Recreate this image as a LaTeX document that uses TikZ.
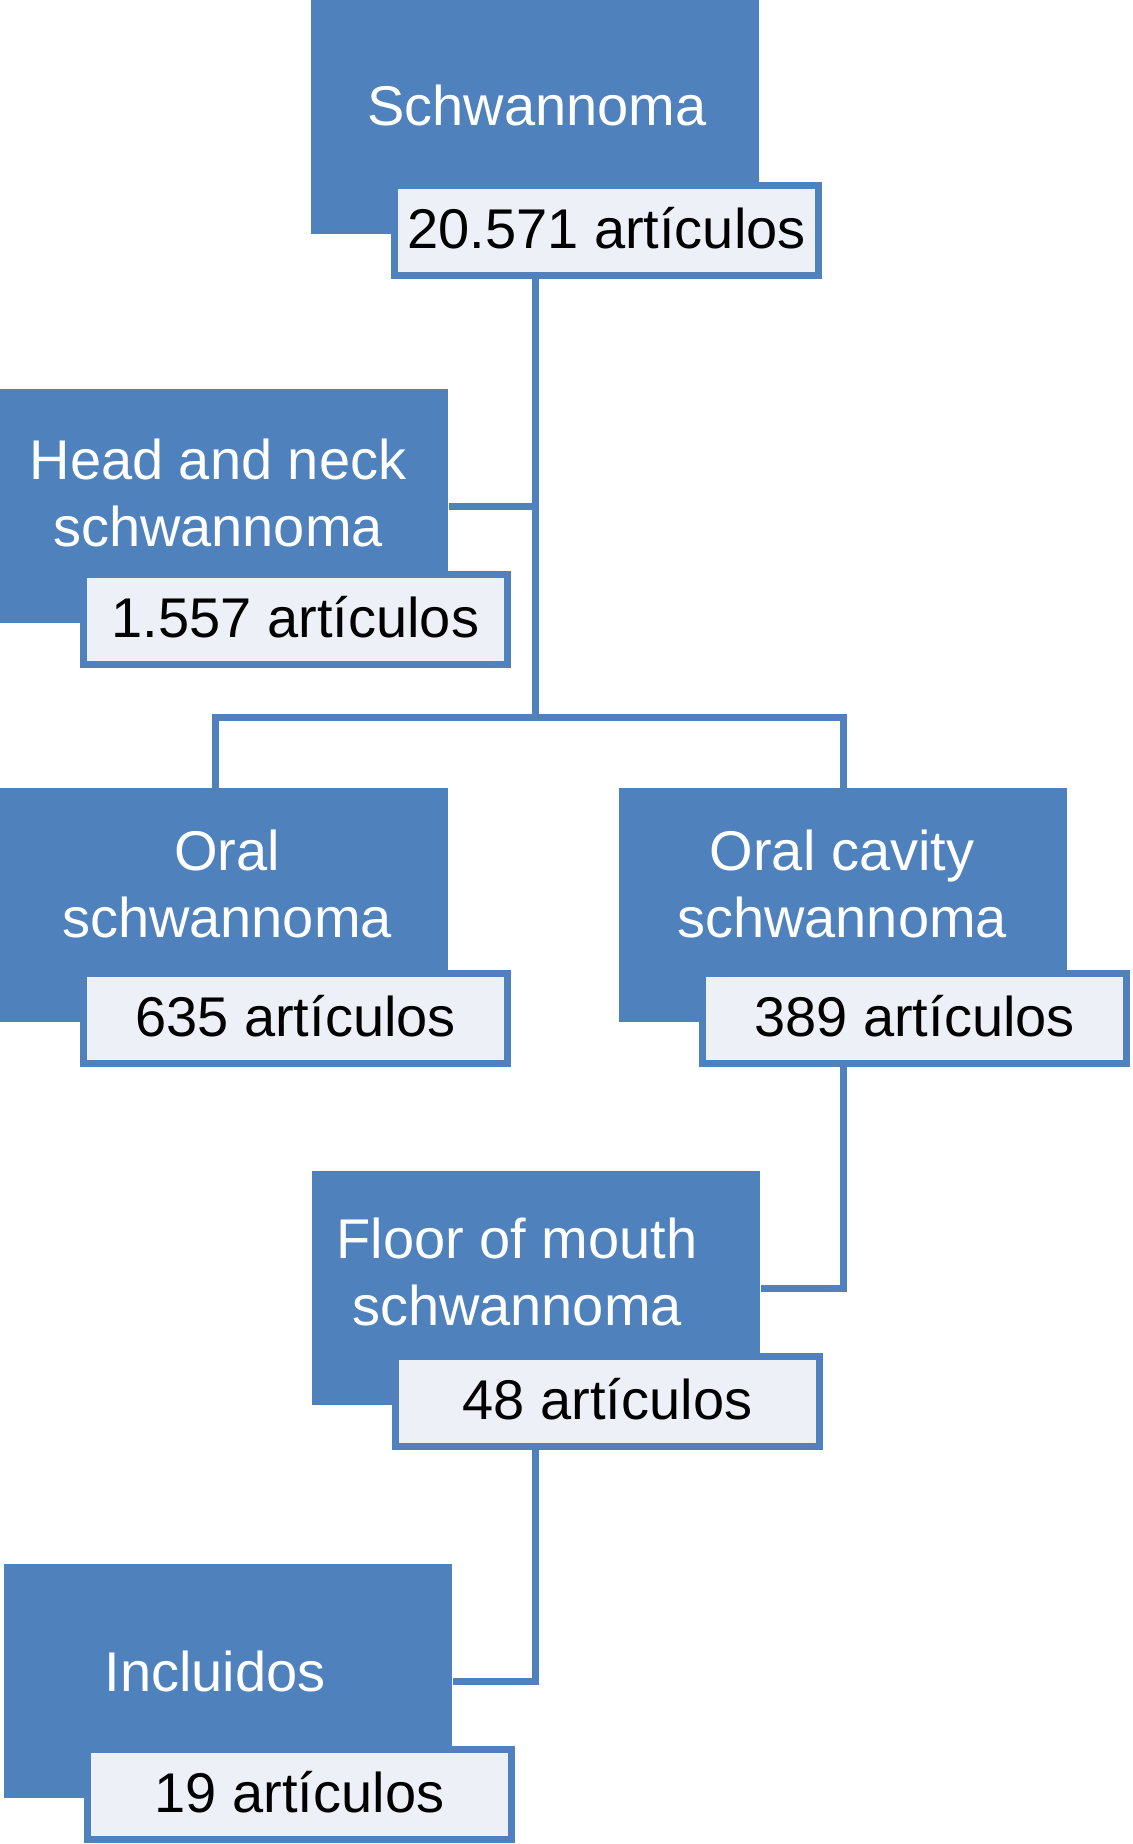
\documentclass[tikz,border=0pt]{standalone}
\usepackage{fontspec}
\setmainfont{Liberation Sans}
\definecolor{bl}{HTML}{4F81BD}
\definecolor{lt}{HTML}{EDF0F7}
\begin{document}
\begin{tikzpicture}[x=0.5pt,y=-0.5pt,
  bluebox/.style={fill=bl, draw=none, inner sep=0pt, minimum width=224pt, minimum height=117pt, anchor=north west},
  countbox/.style={fill=lt, draw=bl, line width=3.5pt, inner sep=0pt, minimum width=212pt, text height=31.25pt, text depth=13.75pt, font=\fontsize{28}{33.5}\selectfont, text=black},
  bluetxt/.style={text=white, font=\fontsize{28}{33.5}\selectfont, align=center, anchor=base, inner sep=0pt},
  conn/.style={draw=bl, line width=3.5pt}
]
\useasboundingbox (0,0) rectangle (1132,1844);
% junction coordinates
\coordinate (j1) at (535,717);
\coordinate (jl) at (215.5,717);
\coordinate (jr) at (843,717);

% blue boxes
\node[bluebox] (s)  at (311,0)    {};
\node[bluebox] (hn) at (0,389)    {};
\node[bluebox] (or) at (0,788)    {};
\node[bluebox] (oc) at (619,788)  {};
\node[bluebox] (fm) at (312,1171) {};
\node[bluebox] (in) at (4,1564)   {};

% blue box texts (base = baseline of last line)
\node[bluetxt] (st)  at (537,125)  {Schwannoma};
\node[bluetxt] (hnt) at (218,546)  {Head and neck\\schwannoma};
\node[bluetxt] (ort) at (227,937)  {Oral\\schwannoma};
\node[bluetxt] (oct) at (842,937)  {Oral cavity\\schwannoma};
\node[bluetxt] (fmt) at (517,1325) {Floor of mouth\\schwannoma};
\node[bluetxt] (int) at (215,1691) {Incluidos};

% count boxes
\node[countbox] (w1) at (606.5,230.5)  {20.571 artículos};
\node[countbox] (w2) at (295.5,619.5)  {1.557 artículos};
\node[countbox] (w3) at (295.5,1018.5) {635 artículos};
\node[countbox] (w4) at (914.5,1018.5) {389 artículos};
\node[countbox] (w5) at (607.5,1401.5) {48 artículos};
\node[countbox] (w6) at (299.5,1794.5) {19 artículos};

% connectors
\draw[conn] (w1.south -| j1) -- (j1);
\draw[conn] (hn.east) -- (hn.east -| j1);
\draw[conn] (or.north -| jl) |- (jr) -- (oc.north -| jr);
\draw[conn] (w4.south -| jr) |- (fm.east);
\draw[conn] (w5.south -| j1) |- (in.east);
\end{tikzpicture}
\end{document}
